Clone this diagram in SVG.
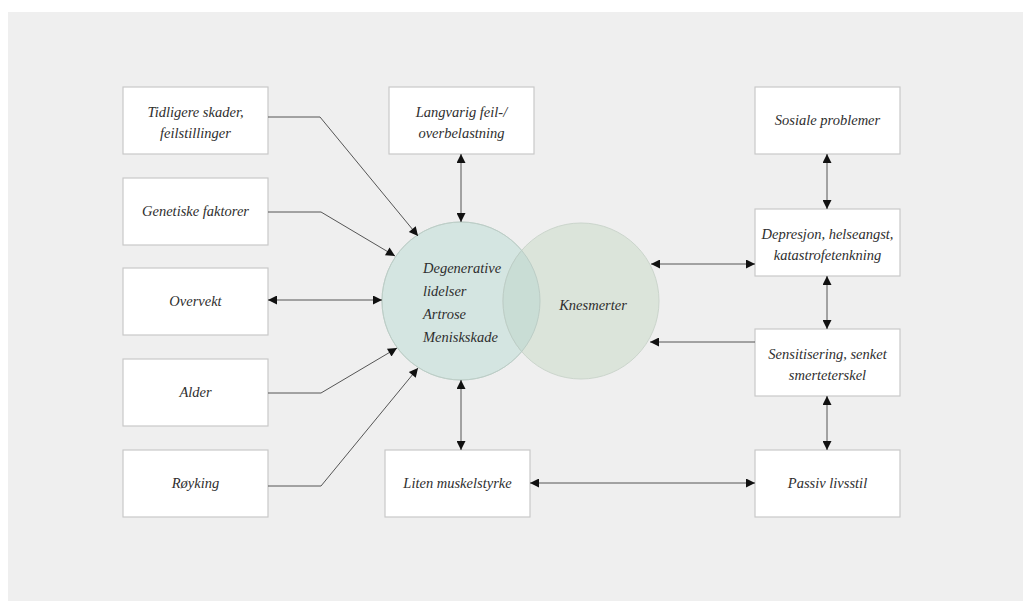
<svg xmlns="http://www.w3.org/2000/svg" width="1023" height="601" viewBox="0 0 1023 601">
<defs>
<style>
.box{fill:#ffffff;stroke:#c9c9c9;stroke-width:1.2}
.t{font-family:"Liberation Serif","DejaVu Serif",serif;font-style:italic;font-size:14.5px;fill:#2e2e2e;text-anchor:middle}
.tl{font-family:"Liberation Serif","DejaVu Serif",serif;font-style:italic;font-size:14.5px;fill:#2e2e2e}
.c{fill:none;stroke:#555555;stroke-width:1}
</style>
<marker id="ah" viewBox="0 0 10 10" refX="10" refY="5" markerWidth="12" markerHeight="9" markerUnits="userSpaceOnUse" orient="auto-start-reverse">
<path d="M0,0 L10,5 L0,10 z" fill="#111111"/>
</marker>
<clipPath id="clipL"><circle cx="461" cy="301" r="79"/></clipPath>
</defs>
<rect x="0" y="0" width="1023" height="601" fill="#ffffff"/>
<rect x="8" y="12" width="1015" height="589" fill="#efefef"/>

<g id="circles">
<circle id="circle-left" cx="461" cy="301" r="79" fill="#d4e5e1" stroke="#c6d6d1" stroke-width="1"/>
<circle id="circle-right" cx="581" cy="301" r="78" fill="#dbe4da" stroke="#cbd5cc" stroke-width="1"/>
<circle cx="581" cy="301" r="78" fill="#c9ddd5" clip-path="url(#clipL)"/>
<circle cx="581" cy="301" r="78" fill="none" stroke="#bccdc6" stroke-width="1" clip-path="url(#clipL)"/>
<circle cx="461" cy="301" r="79" fill="none" stroke="#bccdc6" stroke-width="1"/>
</g>

<g id="node-degenerative">
<text class="tl" x="423" y="273">Degenerative</text>
<text class="tl" x="423" y="296">lidelser</text>
<text class="tl" x="423" y="319">Artrose</text>
<text class="tl" x="423" y="342">Meniskskade</text>
</g>
<g id="node-knesmerter">
<text class="t" x="593" y="310">Knesmerter</text>
</g>

<g id="node-tidligere">
<rect class="box" x="123" y="87" width="145" height="67"/>
<text class="t" x="195.5" y="117">Tidligere skader,</text>
<text class="t" x="195.5" y="138">feilstillinger</text>
</g>
<g id="node-genetiske">
<rect class="box" x="123" y="178" width="145" height="67"/>
<text class="t" x="195.5" y="216">Genetiske faktorer</text>
</g>
<g id="node-overvekt">
<rect class="box" x="123" y="268" width="145" height="67"/>
<text class="t" x="195.5" y="306">Overvekt</text>
</g>
<g id="node-alder">
<rect class="box" x="123" y="359" width="145" height="67"/>
<text class="t" x="195.5" y="397">Alder</text>
</g>
<g id="node-royking">
<rect class="box" x="123" y="450" width="145" height="67"/>
<text class="t" x="195.5" y="488">Røyking</text>
</g>
<g id="node-langvarig">
<rect class="box" x="389" y="87" width="145" height="67"/>
<text class="t" x="461.5" y="117">Langvarig feil-/</text>
<text class="t" x="461.5" y="138">overbelastning</text>
</g>
<g id="node-liten">
<rect class="box" x="385" y="450" width="145" height="67"/>
<text class="t" x="457.5" y="488">Liten  muskelstyrke</text>
</g>
<g id="node-sosiale">
<rect class="box" x="755" y="87" width="145" height="67"/>
<text class="t" x="827.5" y="125">Sosiale problemer</text>
</g>
<g id="node-depresjon">
<rect class="box" x="755" y="209" width="145" height="67"/>
<text class="t" x="827.5" y="239">Depresjon, helseangst,</text>
<text class="t" x="827.5" y="260">katastrofetenkning</text>
</g>
<g id="node-sensitisering">
<rect class="box" x="755" y="329" width="145" height="67"/>
<text class="t" x="827.5" y="359">Sensitisering, senket</text>
<text class="t" x="827.5" y="380">smerteterskel</text>
</g>
<g id="node-passiv">
<rect class="box" x="755" y="450" width="145" height="67"/>
<text class="t" x="827.5" y="488">Passiv livsstil</text>
</g>

<g id="connectors">
<polyline class="c" points="268,117 320,117 418,236" marker-end="url(#ah)"/>
<polyline class="c" points="268,212 321,212 395,256" marker-end="url(#ah)"/>
<line class="c" x1="268" y1="300" x2="382" y2="300" marker-start="url(#ah)" marker-end="url(#ah)"/>
<polyline class="c" points="268,393 321,393 397,348" marker-end="url(#ah)"/>
<polyline class="c" points="268,486 321,486 418,368" marker-end="url(#ah)"/>
<line class="c" x1="461" y1="154" x2="461" y2="222" marker-start="url(#ah)" marker-end="url(#ah)"/>
<line class="c" x1="461" y1="380" x2="461" y2="450" marker-start="url(#ah)" marker-end="url(#ah)"/>
<line class="c" x1="530" y1="483" x2="755" y2="483" marker-start="url(#ah)" marker-end="url(#ah)"/>
<line class="c" x1="651" y1="264" x2="755" y2="264" marker-start="url(#ah)" marker-end="url(#ah)"/>
<line class="c" x1="755" y1="342" x2="650" y2="342" marker-end="url(#ah)"/>
<line class="c" x1="827" y1="154" x2="827" y2="209" marker-start="url(#ah)" marker-end="url(#ah)"/>
<line class="c" x1="827" y1="276" x2="827" y2="329" marker-start="url(#ah)" marker-end="url(#ah)"/>
<line class="c" x1="827" y1="396" x2="827" y2="450" marker-start="url(#ah)" marker-end="url(#ah)"/>
</g>
</svg>
